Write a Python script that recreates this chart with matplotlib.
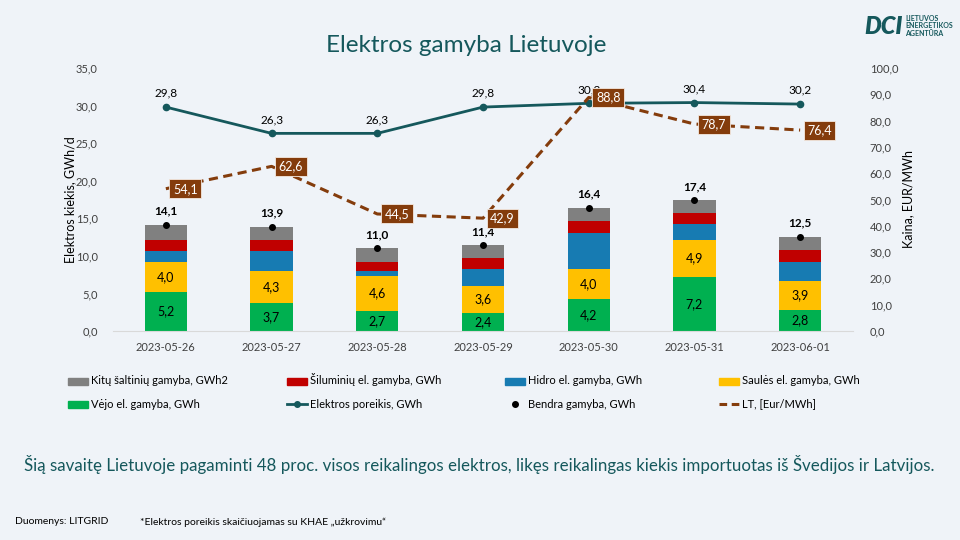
import numpy as np
import matplotlib
matplotlib.use("Agg")
import matplotlib.pyplot as plt
from matplotlib.patches import Rectangle
from matplotlib.lines import Line2D

plt.rcParams["font.family"] = ["Lato", "DejaVu Sans"]

# ==========================
# Data
# ==========================
dates = ["2023-05-26", "2023-05-27", "2023-05-28", "2023-05-29",
         "2023-05-30", "2023-05-31", "2023-06-01"]
wind = [5.2, 3.7, 2.7, 2.4, 4.2, 7.2, 2.8]
solar = [4.0, 4.3, 4.6, 3.6, 4.0, 4.9, 3.9]
hydro = [1.5, 2.7, 0.7, 2.3, 4.9, 2.2, 2.5]
thermal = [1.4, 1.4, 1.2, 1.4, 1.5, 1.4, 1.6]
other = [2.0, 1.8, 1.8, 1.7, 1.8, 1.7, 1.7]
total = [14.1, 13.9, 11.0, 11.4, 16.4, 17.4, 12.5]
demand = [29.8, 26.3, 26.3, 29.8, 30.3, 30.4, 30.2]
price = [54.1, 62.6, 44.5, 42.9, 88.8, 78.7, 76.4]

# ==========================
# Palette
# ==========================
bg = "#EFF3F8"
teal = "#15585C"
c_wind = "#00B050"
c_solar = "#FFC000"
c_hydro = "#177BB2"
c_thermal = "#C00000"
c_other = "#808080"
c_price = "#843C0C"
tick_col = "#404040"


def fmt(v):
    return f"{v:.1f}".replace(".", ",")


fig = plt.figure(figsize=(9.6, 5.4), dpi=100, facecolor=bg)
ax = fig.add_axes([113 / 960, 1 - 331 / 540, 740 / 960, 263 / 540])
ax.set_facecolor(bg)
ax2 = ax.twinx()

x = np.arange(len(dates))
w = 0.40

# --------------------------
# Stacked bars
# --------------------------
series = [(wind, c_wind), (solar, c_solar), (hydro, c_hydro),
          (thermal, c_thermal), (other, c_other)]
bottom = np.zeros(len(dates))
for vals, col in series:
    ax.bar(x, vals, width=w, bottom=bottom, color=col, edgecolor="none", zorder=2)
    bottom += np.array(vals)

for xi, wv, sv in zip(x, wind, solar):
    ax.text(xi, wv / 2, fmt(wv), ha="center", va="center", fontsize=9, color="black", zorder=4)
    ax.text(xi, wv + sv / 2, fmt(sv), ha="center", va="center", fontsize=9, color="black", zorder=4)

# total production dots + labels
ax.scatter(x, total, s=16, color="black", zorder=5)
for xi, t in zip(x, total):
    ax.annotate(fmt(t), (xi, t), xytext=(0, 6), textcoords="offset points",
                ha="center", va="bottom", fontsize=8.5, fontweight="bold", color="black")

# demand line
ax.plot(x, demand, color=teal, lw=2, marker="o", ms=4.5, zorder=4)
for xi, d in zip(x, demand):
    ax.annotate(fmt(d), (xi, d), xytext=(0, 6), textcoords="offset points",
                ha="center", va="bottom", fontsize=8.5, color="black")

ax.set_xlim(-0.5, len(dates) - 0.5)
ax.set_ylim(0, 35)
ax.set_yticks(np.arange(0, 36, 5))
ax.set_yticklabels([fmt(v) for v in np.arange(0, 36, 5)])
ax.set_xticks(x)
ax.set_xticklabels(dates)
ax.tick_params(axis="both", length=0, labelsize=8, colors=tick_col)
ax.tick_params(axis="y", pad=11)
ax.tick_params(axis="x", pad=8)
for s in ["top", "left", "right"]:
    ax.spines[s].set_visible(False)
ax.spines["bottom"].set_color("#D9D9D9")
ax.set_ylabel("Elektros kiekis, GWh/d", fontsize=9, color="black", labelpad=0)

# --------------------------
# Price line (right axis)
# --------------------------
ax2.plot(x, price, color=c_price, lw=2.2, linestyle=(0, (3, 1.8)), zorder=3)
for xi, p in zip(x, price):
    ax2.annotate(fmt(p), (xi, p), xytext=(14, 0), textcoords="offset points",
                 ha="center", va="center", fontsize=9, color="white", zorder=6,
                 bbox=dict(boxstyle="square,pad=0.28", fc=c_price, ec="#F4E9E0", lw=0.6))
ax2.set_ylim(0, 100)
ax2.set_yticks(np.arange(0, 101, 10))
ax2.set_yticklabels([fmt(v) for v in np.arange(0, 101, 10)])
ax2.tick_params(axis="y", length=0, labelsize=8, colors=tick_col, pad=12)
for s in ["top", "left", "right", "bottom"]:
    ax2.spines[s].set_visible(False)
ax2.set_ylabel("Kaina, EUR/MWh", fontsize=9, color="black", labelpad=3)

# --------------------------
# Legend (4 columns x 2 rows), drawn by hand so the rows line up
# --------------------------
W, H = 960.0, 540.0
col_x = [68, 287, 505, 719]
row_y = [381, 404]
entries = [
    [("patch", c_other, "Kitų šaltinių gamyba, GWh2"),
     ("patch", c_thermal, "Šiluminių el. gamyba, GWh"),
     ("patch", c_hydro, "Hidro el. gamyba, GWh"),
     ("patch", c_solar, "Saulės el. gamyba, GWh")],
    [("patch", c_wind, "Vėjo el. gamyba, GWh"),
     ("line", teal, "Elektros poreikis, GWh"),
     ("dot", "black", "Bendra gamyba, GWh"),
     ("dash", c_price, "LT, [Eur/MWh]")],
]
hl = 20  # handle length, px
for r, row in enumerate(entries):
    cy = 1 - row_y[r] / H
    for c, (kind, col, label) in enumerate(row):
        x0 = col_x[c] / W
        x1 = (col_x[c] + hl) / W
        xm = (col_x[c] + hl / 2) / W
        if kind == "patch":
            fig.add_artist(Rectangle((x0, cy - 3.5 / H), hl / W, 7 / H,
                                     transform=fig.transFigure, color=col))
        elif kind == "line":
            fig.add_artist(Line2D([x0, x1], [cy, cy], transform=fig.transFigure,
                                  color=col, lw=2))
            fig.add_artist(Line2D([xm], [cy], transform=fig.transFigure,
                                  color=col, marker="o", ms=4))
        elif kind == "dot":
            fig.add_artist(Line2D([xm], [cy], transform=fig.transFigure,
                                  color=col, marker="o", ms=4, lw=0))
        else:
            fig.add_artist(Line2D([x0, x1], [cy, cy], transform=fig.transFigure,
                                  color=col, lw=2.2, linestyle=(0, (2.5, 1.5))))
        fig.text((col_x[c] + hl + 3) / W, cy - 3.5 / H, label, ha="left", va="baseline",
                 fontsize=8, color="black")

# --------------------------
# Title, notes, logo
# --------------------------
fig.text(0.486, 1 - 45 / 540, "Elektros gamyba Lietuvoje", ha="center", va="center",
         fontsize=17.5, color=teal)
fig.text(0.4995, 1 - 465 / 540,
         "Šią savaitę Lietuvoje pagaminti 48 proc. visos reikalingos elektros, likęs reikalingas kiekis importuotas iš Švedijos ir Latvijos.",
         ha="center", va="center", fontsize=12.2, color=teal)
fig.text(15 / 960, 1 - 522 / 540, "Duomenys: LITGRID", ha="left", va="center",
         fontsize=7.5, color="black")
fig.text(140 / 960, 1 - 522 / 540, "*Elektros poreikis skaičiuojamas su KHAE „užkrovimu“",
         ha="left", va="center", fontsize=7.5, color="black")

fig.text(884 / 960, 1 - 27 / 540, "DCI", ha="center", va="center", fontsize=17,
         fontweight="heavy", style="italic", color=teal)
fig.text(905 / 960, 1 - 26 / 540, "LIETUVOS\nENERGETIKOS\nAGENTŪRA", ha="left", va="center",
         fontsize=5, fontweight="bold", color=teal, linespacing=1.1)

fig.savefig("out.png", dpi=100, facecolor=bg)
